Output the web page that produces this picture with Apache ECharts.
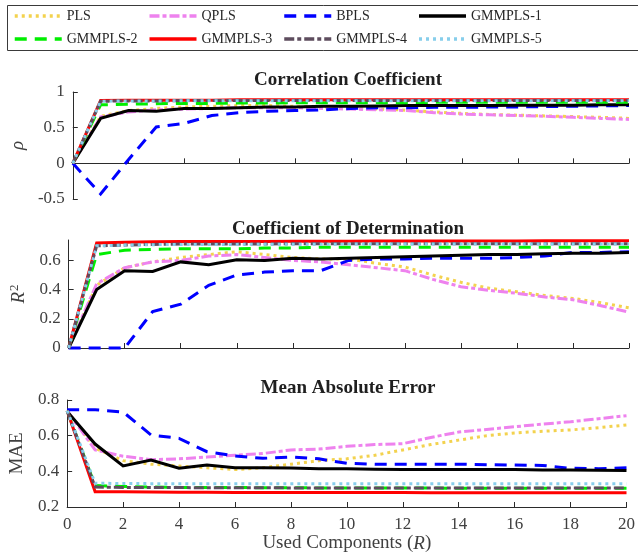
<!DOCTYPE html>
<html>
<head>
<meta charset="utf-8">
<script src="https://cdn.jsdelivr.net/npm/echarts@6/dist/echarts.min.js"></script>
<style>
  html, body { margin: 0; padding: 0; background: #fff; }
  #chart { width: 638px; height: 556px; }
</style>
</head>
<body>
<div id="chart"></div>
<script>
// Number of used components R on the shared horizontal axis
const components = [0, 1, 2, 3, 4, 5, 6, 7, 8, 9, 10, 11, 12, 13, 14, 15, 16, 17, 18, 19, 20];
const methodNames = ['PLS', 'QPLS', 'BPLS', 'GMMPLS-1', 'GMMPLS-2', 'GMMPLS-3', 'GMMPLS-4', 'GMMPLS-5'];

// Correlation coefficient (rho)
const rhoPLS   = [0, 0.66, 0.74, 0.77, 0.79, 0.80, 0.81, 0.81, 0.80, 0.79, 0.77, 0.76, 0.745, 0.72, 0.70, 0.685, 0.675, 0.665, 0.655, 0.645, 0.63];
const rhoQPLS  = [0, 0.65, 0.72, 0.75, 0.76, 0.77, 0.78, 0.78, 0.78, 0.77, 0.76, 0.75, 0.74, 0.71, 0.69, 0.68, 0.67, 0.66, 0.645, 0.63, 0.615];
const rhoBPLS  = [0, -0.43, 0.05, 0.51, 0.56, 0.67, 0.71, 0.73, 0.74, 0.75, 0.77, 0.78, 0.78, 0.785, 0.785, 0.79, 0.79, 0.795, 0.80, 0.805, 0.81];
const rhoGMM1  = [0, 0.63, 0.74, 0.73, 0.77, 0.77, 0.78, 0.79, 0.79, 0.80, 0.80, 0.805, 0.81, 0.81, 0.81, 0.81, 0.815, 0.815, 0.815, 0.82, 0.82];
const rhoGMM2  = [0, 0.82, 0.83, 0.835, 0.84, 0.84, 0.845, 0.845, 0.85, 0.85, 0.85, 0.85, 0.85, 0.855, 0.855, 0.855, 0.855, 0.855, 0.855, 0.855, 0.855];
const rhoGMM3  = [0, 0.88, 0.885, 0.885, 0.885, 0.885, 0.89, 0.89, 0.89, 0.89, 0.89, 0.89, 0.89, 0.89, 0.89, 0.89, 0.89, 0.89, 0.89, 0.89, 0.89];
const rhoGMM4  = [0, 0.87, 0.875, 0.875, 0.88, 0.88, 0.88, 0.88, 0.88, 0.88, 0.88, 0.88, 0.88, 0.88, 0.88, 0.88, 0.88, 0.88, 0.88, 0.88, 0.88];
const rhoGMM5  = [0, 0.87, 0.875, 0.875, 0.878, 0.878, 0.878, 0.878, 0.878, 0.878, 0.878, 0.878, 0.878, 0.878, 0.878, 0.878, 0.878, 0.878, 0.878, 0.878, 0.878];

// Coefficient of determination (R^2)
const r2PLS    = [0, 0.43, 0.55, 0.59, 0.62, 0.64, 0.66, 0.64, 0.62, 0.61, 0.61, 0.58, 0.555, 0.50, 0.45, 0.41, 0.385, 0.36, 0.34, 0.31, 0.275];
const r2QPLS   = [0, 0.44, 0.55, 0.59, 0.60, 0.63, 0.64, 0.62, 0.60, 0.59, 0.57, 0.55, 0.53, 0.47, 0.42, 0.395, 0.375, 0.35, 0.33, 0.29, 0.245];
const r2BPLS   = [0, 0, 0, 0.25, 0.30, 0.43, 0.50, 0.52, 0.53, 0.53, 0.60, 0.61, 0.61, 0.615, 0.615, 0.615, 0.62, 0.63, 0.655, 0.655, 0.66];
const r2GMM1   = [0, 0.40, 0.53, 0.525, 0.59, 0.57, 0.605, 0.60, 0.615, 0.61, 0.615, 0.62, 0.625, 0.63, 0.635, 0.64, 0.64, 0.645, 0.65, 0.65, 0.655];
const r2GMM2   = [0, 0.64, 0.67, 0.675, 0.68, 0.68, 0.68, 0.685, 0.685, 0.69, 0.69, 0.69, 0.69, 0.69, 0.69, 0.69, 0.69, 0.69, 0.69, 0.69, 0.69];
const r2GMM3   = [0, 0.72, 0.725, 0.728, 0.73, 0.73, 0.73, 0.73, 0.732, 0.732, 0.732, 0.733, 0.733, 0.733, 0.734, 0.734, 0.734, 0.735, 0.735, 0.735, 0.735];
const r2GMM4   = [0, 0.70, 0.705, 0.71, 0.712, 0.712, 0.713, 0.713, 0.714, 0.714, 0.714, 0.715, 0.715, 0.715, 0.715, 0.715, 0.715, 0.715, 0.715, 0.715, 0.715];
const r2GMM5   = [0, 0.70, 0.705, 0.708, 0.71, 0.71, 0.71, 0.711, 0.711, 0.711, 0.712, 0.712, 0.712, 0.712, 0.712, 0.712, 0.712, 0.712, 0.712, 0.712, 0.712];

// Mean absolute error
const maePLS   = [0.74, 0.53, 0.46, 0.44, 0.43, 0.42, 0.41, 0.42, 0.44, 0.46, 0.47, 0.49, 0.52, 0.55, 0.575, 0.60, 0.615, 0.625, 0.632, 0.645, 0.66];
const maeQPLS  = [0.74, 0.52, 0.485, 0.465, 0.47, 0.48, 0.49, 0.50, 0.52, 0.525, 0.54, 0.55, 0.555, 0.59, 0.62, 0.635, 0.65, 0.665, 0.678, 0.695, 0.712];
const maeBPLS  = [0.745, 0.745, 0.733, 0.604, 0.585, 0.51, 0.486, 0.473, 0.48, 0.47, 0.445, 0.44, 0.44, 0.44, 0.44, 0.437, 0.435, 0.433, 0.417, 0.415, 0.42];
const maeGMM1  = [0.735, 0.553, 0.43, 0.463, 0.417, 0.435, 0.42, 0.42, 0.418, 0.415, 0.415, 0.412, 0.41, 0.41, 0.41, 0.41, 0.41, 0.408, 0.407, 0.406, 0.405];
const maeGMM2  = [0.74, 0.32, 0.315, 0.312, 0.31, 0.31, 0.31, 0.308, 0.308, 0.307, 0.307, 0.306, 0.306, 0.306, 0.305, 0.305, 0.305, 0.305, 0.305, 0.305, 0.305];
const maeGMM3  = [0.74, 0.286, 0.285, 0.284, 0.283, 0.283, 0.282, 0.282, 0.282, 0.281, 0.281, 0.281, 0.281, 0.28, 0.28, 0.28, 0.28, 0.28, 0.28, 0.28, 0.28];
const maeGMM4  = [0.74, 0.312, 0.31, 0.309, 0.309, 0.308, 0.308, 0.308, 0.307, 0.307, 0.307, 0.307, 0.307, 0.307, 0.307, 0.307, 0.307, 0.307, 0.307, 0.307, 0.307];
const maeGMM5  = [0.74, 0.333, 0.332, 0.331, 0.331, 0.33, 0.33, 0.33, 0.33, 0.33, 0.33, 0.33, 0.33, 0.33, 0.33, 0.33, 0.33, 0.33, 0.33, 0.33, 0.33];

const rhoValues = [rhoPLS, rhoQPLS, rhoBPLS, rhoGMM1, rhoGMM2, rhoGMM3, rhoGMM4, rhoGMM5];
const r2Values  = [r2PLS, r2QPLS, r2BPLS, r2GMM1, r2GMM2, r2GMM3, r2GMM4, r2GMM5];
const maeValues = [maePLS, maeQPLS, maeBPLS, maeGMM1, maeGMM2, maeGMM3, maeGMM4, maeGMM5];

// Line appearance per method
const lineLooks = [
  { color: '#F3D24E', type: [3, 4] },            // dotted
  { color: '#EE82EE', type: [10, 3, 4, 3] },     // dash-dot
  { color: '#0000FF', type: [12, 8] },           // dashed
  { color: '#000000', type: 'solid' },
  { color: '#00EE00', type: [12, 8] },
  { color: '#FF0000', type: 'solid' },
  { color: '#5E4C5E', type: [10, 3, 4, 3] },
  { color: '#87CEEB', type: [3, 4] }
];

const SERIF = "'Liberation Serif', 'Times New Roman', serif";
const AXIS_COLOR = '#2b2b2b';
const LABEL_COLOR = '#404040';

const gridTops = [92, 240, 400];
const gridHeights = [107, 108, 107];

const grids = gridTops.map((t, i) => ({ left: 67, right: 9, top: t, height: gridHeights[i] }));

const xAxes = [0, 1, 2].map(i => ({
  type: 'value', gridIndex: i, min: 0, max: 20, interval: 2,
  axisLine: { show: true, lineStyle: { color: AXIS_COLOR, width: 1 } },
  axisTick: { show: true, inside: true, length: 5, lineStyle: { color: AXIS_COLOR } },
  splitLine: { show: false },
  axisLabel: {
    show: i === 2, margin: 9, color: LABEL_COLOR, fontFamily: SERIF, fontSize: 17
  },
  name: i === 2 ? '{n|Used Components (}{i|R}{n|)}' : '',
  nameLocation: 'middle', nameGap: 27,
  nameTextStyle: {
    rich: {
      n: { fontFamily: SERIF, fontSize: 19, color: LABEL_COLOR },
      i: { fontFamily: SERIF, fontSize: 19, color: LABEL_COLOR, fontStyle: 'italic' }
    }
  }
}));

function yAxis(i, min, max, ticks, name) {
  return {
    type: 'value', gridIndex: i, min: min, max: max,
    axisLine: { show: true, lineStyle: { color: AXIS_COLOR, width: 1 } },
    axisTick: { show: true, inside: true, length: 5, customValues: ticks, lineStyle: { color: AXIS_COLOR } },
    splitLine: { show: false },
    axisLabel: {
      margin: 8, color: LABEL_COLOR, fontFamily: SERIF, fontSize: 17,
      customValues: ticks, formatter: v => String(+v.toFixed(2))
    },
    name: name, nameLocation: 'middle', nameRotate: 90, nameGap: 36,
    nameTextStyle: {
      fontFamily: SERIF, fontSize: 19, color: LABEL_COLOR,
      rich: {
        i: { fontFamily: SERIF, fontSize: 19, color: LABEL_COLOR, fontStyle: 'italic' },
        s: { fontFamily: SERIF, fontSize: 13, color: LABEL_COLOR, padding: [0, 0, 9, 1] }
      }
    }
  };
}

const yAxes = [
  yAxis(0, -0.5, 1, [-0.5, 0, 0.5, 1], '{i|ρ}'),
  yAxis(1, 0, 0.74, [0, 0.2, 0.4, 0.6], '{i|R}{s|2}'),
  yAxis(2, 0.2, 0.8, [0.2, 0.4, 0.6, 0.8], 'MAE')
];

const series = [];
[rhoValues, r2Values, maeValues].forEach((group, gi) => {
  group.forEach((vals, mi) => {
    series.push({
      name: methodNames[mi],
      type: 'line',
      xAxisIndex: gi, yAxisIndex: gi,
      data: components.map((x, k) => [x, vals[k]]),
      symbol: 'none', showSymbol: false,
      clip: false,
      animation: false,
      lineStyle: { color: lineLooks[mi].color, width: 3, type: lineLooks[mi].type, cap: 'butt', join: 'miter' },
      itemStyle: { color: lineLooks[mi].color },
      z: 2 + mi
    });
  });
});

const titles = ['Correlation Coefficient', 'Coefficient of Determination', 'Mean Absolute Error'];
const titleCentersY = [80, 229, 388];

const chart = echarts.init(document.getElementById('chart'), null, { renderer: 'canvas' });
chart.setOption({
  backgroundColor: '#ffffff',
  animation: false,
  grid: grids,
  xAxis: xAxes,
  yAxis: yAxes,
  legend: {
    data: methodNames,
    left: 13, top: 9, width: 560,
    orient: 'horizontal',
    padding: 0,
    itemWidth: 47, itemHeight: 14, itemGap: 9,
    // only the line sample is shown, no marker in its middle
    itemStyle: { color: 'rgba(0,0,0,0)', borderColor: 'rgba(0,0,0,0)', borderWidth: 0 },
    lineStyle: { width: 3.5 },
    textStyle: { fontFamily: SERIF, fontSize: 14, color: '#262626', width: 72, lineHeight: 14 },
    z: 5
  },
  graphic: [
    {
      type: 'rect', z: 1, silent: true,
      shape: { x: 7.5, y: 5.5, width: 640, height: 45 },
      style: { fill: '#ffffff', stroke: '#3a3a3a', lineWidth: 1 }
    }
  ].concat(titles.map((t, i) => ({
    type: 'text', z: 10, silent: true,
    x: 348, y: titleCentersY[i],
    style: {
      text: t, fill: '#1f1f1f', align: 'center', verticalAlign: 'middle',
      font: 'bold 19px ' + SERIF
    }
  }))),
  series: series
});
</script>
</body>
</html>
